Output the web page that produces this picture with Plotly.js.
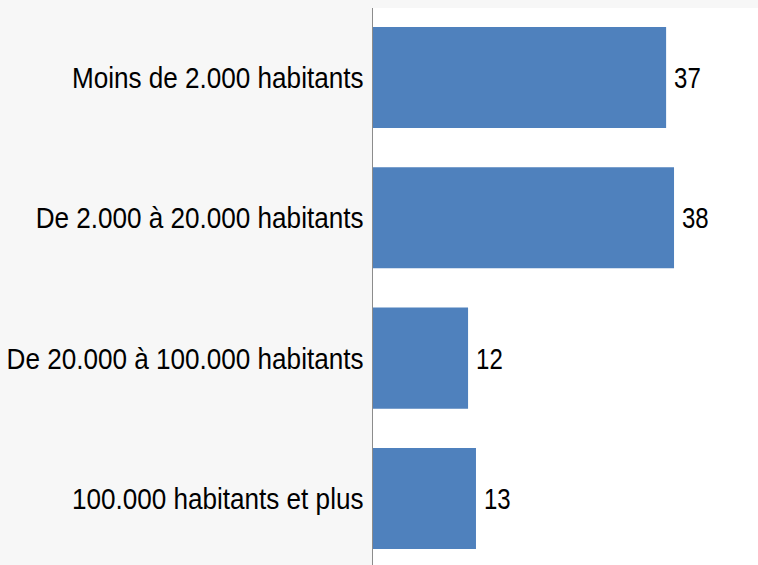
<!DOCTYPE html>
<html><head><meta charset="utf-8">
<script src="https://cdn.plot.ly/plotly-3.0.1.min.js"></script>
<style>html,body{margin:0;padding:0;background:#f7f7f7;overflow:hidden}</style>
</head><body>
<div id="chart" style="width:758px;height:565px"></div>
<script>
const categories = ["Moins de 2.000 habitants", "De 2.000 à 20.000 habitants", "De 20.000 à 100.000 habitants", "100.000 habitants et plus"];
const values = [37, 38, 12, 13];
const labels = ["37", "38", "12", "13"];

const FONT = "Liberation Sans, Arial, sans-serif";
Plotly.newPlot("chart", [{
  type: "bar",
  orientation: "h",
  y: categories,
  x: values,
  text: labels,
  textposition: "outside",
  cliponaxis: false,
  width: 0.72,
  marker: {color: "#4f81bd"},
  textfont: {family: FONT, size: 30, color: "#000"},
  hoverinfo: "none"
}], {
  width: 758, height: 565,
  margin: {l: 373, r: 0, t: 8, b: 0},
  paper_bgcolor: "#f7f7f7",
  plot_bgcolor: "#ffffff",
  showlegend: false,
  xaxis: {range: [0, 48.6], visible: false, fixedrange: true},
  yaxis: {
    type: "category",
    range: [3.474, -0.495],
    showline: true, linecolor: "#8c8c8c", linewidth: 1.5,
    showgrid: false, zeroline: false,
    ticks: "outside", ticklen: 2, tickcolor: "rgba(0,0,0,0)",
    tickfont: {family: FONT, size: 30, color: "#000"}
  },
  font: {family: FONT}
}, {staticPlot: true}).then(function (gd) {
  // condense the text horizontally to mimic a narrow typeface
  function squeeze(sel, s, anchor, dx) {
    gd.querySelectorAll(sel).forEach(function (t) {
      const b = t.getBBox();
      const ax = anchor === "end" ? b.x + b.width : b.x;
      const tr = t.getAttribute("transform") || "";
      t.setAttribute("transform", tr + " translate(" + (ax + dx) + ",0) scale(" + s + ",1) translate(" + (-ax) + ",0)");
    });
  }
  squeeze(".ytick text", 0.87, "end", 0);
  squeeze("text.bartext", 0.8, "start", 5);
});
</script>
</body></html>
